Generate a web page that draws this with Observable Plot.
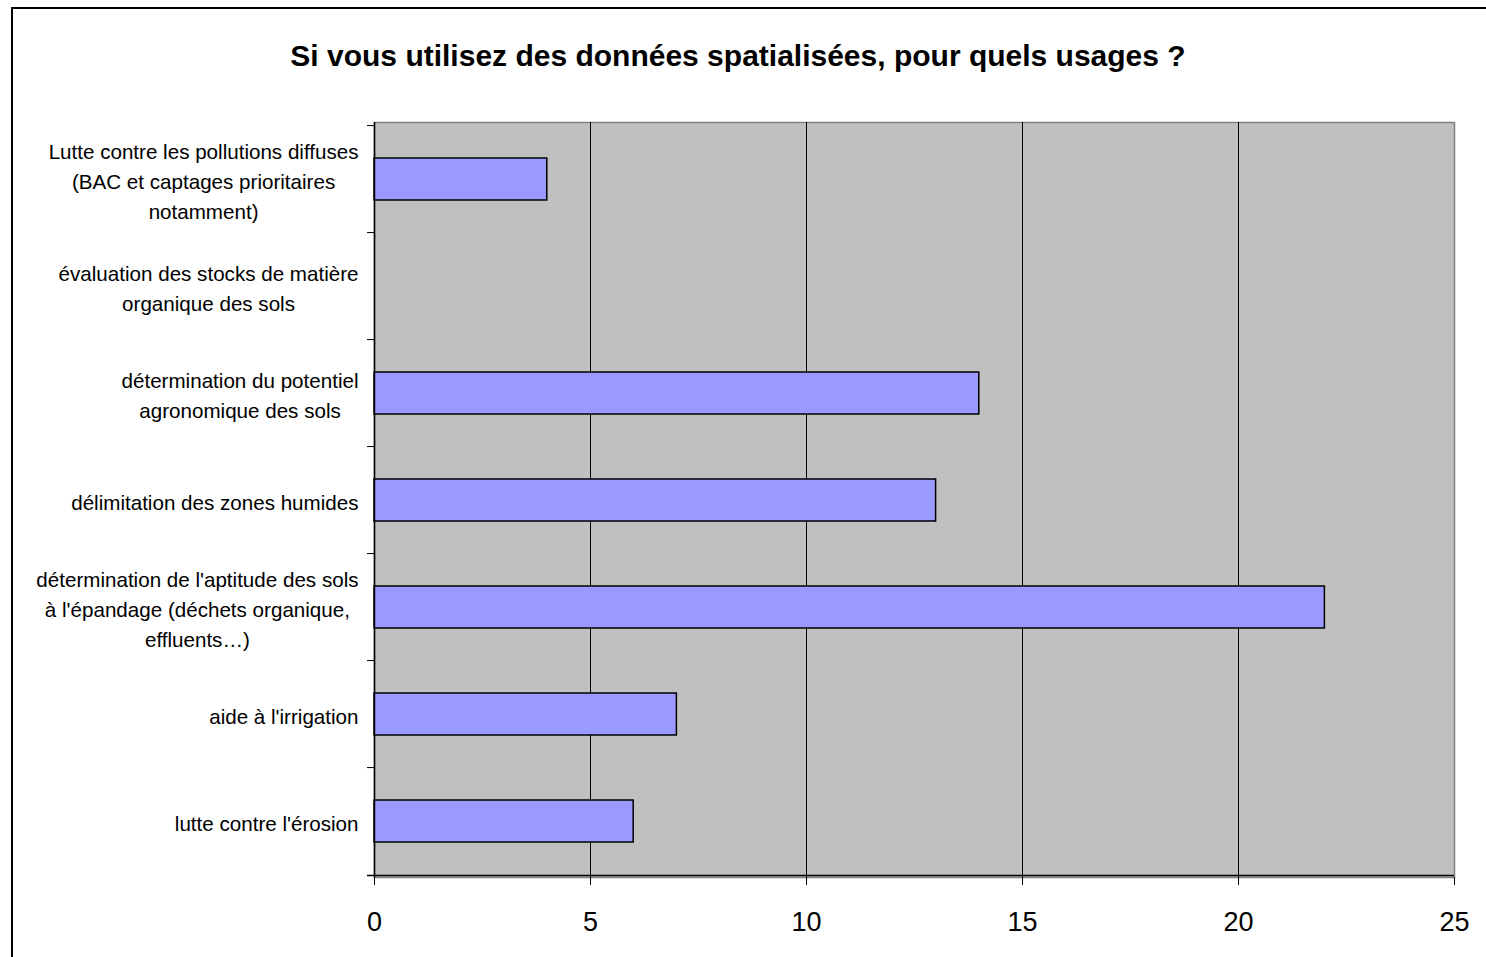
<!DOCTYPE html>
<html>
<head>
<meta charset="utf-8">
<script src="https://cdn.jsdelivr.net/npm/d3@7"></script>
<script src="https://cdn.jsdelivr.net/npm/@observablehq/plot@0.6"></script>
<style>
  html, body { margin: 0; padding: 0; background: #fff; overflow: hidden; }
  body { width: 1486px; height: 957px; position: relative; font-family: 'Liberation Sans', Arial, sans-serif; color: #000; }
  #chart figure { margin: 0; }
  #chart h2 { margin: 0; padding: 39px 10px 0 0; height: 34px; line-height: 34px; font-size: 30px; font-weight: bold; text-align: center; color: #000; font-family: 'Liberation Sans', Arial, sans-serif; }
  #border { position: absolute; left: 11px; top: 7px; width: 3000px; height: 3000px; border-left: 2px solid #000; border-top: 2px solid #000; pointer-events: none; }
</style>
</head>
<body>
<div id="chart"></div>
<div id="border"></div>
<script>
const title = "Si vous utilisez des données spatialisées, pour quels usages ?";
const categories = [
  "Lutte contre les pollutions diffuses (BAC et captages prioritaires notamment)",
  "évaluation des stocks de matière organique des sols",
  "détermination du potentiel agronomique des sols",
  "délimitation des zones humides",
  "détermination de l'aptitude des sols à l'épandage (déchets organique, effluents…)",
  "aide à l'irrigation",
  "lutte contre l'érosion"
];
const categoryLabels = [
  "Lutte contre les pollutions diffuses\n(BAC et captages prioritaires\nnotamment)",
  "évaluation des stocks de matière\norganique des sols",
  "détermination du potentiel\nagronomique des sols",
  "délimitation des zones humides",
  "détermination de l'aptitude des sols\nà l'épandage (déchets organique,\neffluents…)",
  "aide à l'irrigation",
  "lutte contre l'érosion"
];
const values = [4, 0, 14, 13, 22, 7, 6];
const xTicks = [0, 5, 10, 15, 20, 25];
const gridTicks = [5, 10, 15, 20];

const data = categories.map((c, i) => ({cat: c, label: categoryLabels[i], value: values[i]}));

const W = 1486, H = 884;
const mL = 374, mR = 32, mT = 49, mB = 80;
const plotW = W - mL - mR, plotH = H - mT - mB;
const step = plotH / categories.length;
const labelFont = 20.6;
const fontFamily = "'Liberation Sans', Arial, sans-serif";

const ctx = document.createElement("canvas").getContext("2d");
ctx.font = `${labelFont}px ${fontFamily}`;
const blockW = categoryLabels.map(l => Math.max(...l.split("\n").map(s => ctx.measureText(s).width)));

const labelMarks = data.map((d, i) => Plot.text([d], {
  y: "cat", text: "label", frameAnchor: "left", textAnchor: "middle", lineAnchor: "middle",
  lineHeight: 1.45, fontSize: labelFont, fill: "#000", dx: -(16 + blockW[i] / 2)
}));

const chart = Plot.plot({
  title,
  width: W, height: H,
  marginLeft: mL, marginRight: mR, marginTop: mT, marginBottom: mB,
  style: {fontFamily, color: "#000", background: "transparent", overflow: "visible"},
  x: {domain: [0, 25], range: [mL, W - mR]},
  y: {domain: categories, paddingInner: 0.61, paddingOuter: 0.305, axis: null},
  marks: [
    Plot.frame({fill: "#c0c0c0", stroke: "#808080", strokeWidth: 1.5}),
    Plot.ruleX(gridTicks, {stroke: "#000", strokeWidth: 1}),
    Plot.barX(data, {filter: d => d.value > 0, x: "value", y: "cat", fill: "#9999ff", stroke: "#000", strokeWidth: 1.5}),
    Plot.ruleX([0], {stroke: "#000", strokeWidth: 1.5}),
    Plot.tickY(categories, {y: d => d, dy: -step / 2, insetRight: plotW - 7, dx: -7, stroke: "#000", strokeWidth: 1}),
    Plot.tickY(categories.slice(-1), {y: d => d, dy: step / 2, insetLeft: -7, stroke: "#000", strokeWidth: 1.5}),
    Plot.axisX({ticks: xTicks, tickSize: 8, tickPadding: 26, fontSize: 27, tickFormat: d => String(d), label: null, stroke: "#000", fill: "#000"}),
    ...labelMarks
  ]
});
document.getElementById("chart").appendChild(chart);
</script>
</body>
</html>
